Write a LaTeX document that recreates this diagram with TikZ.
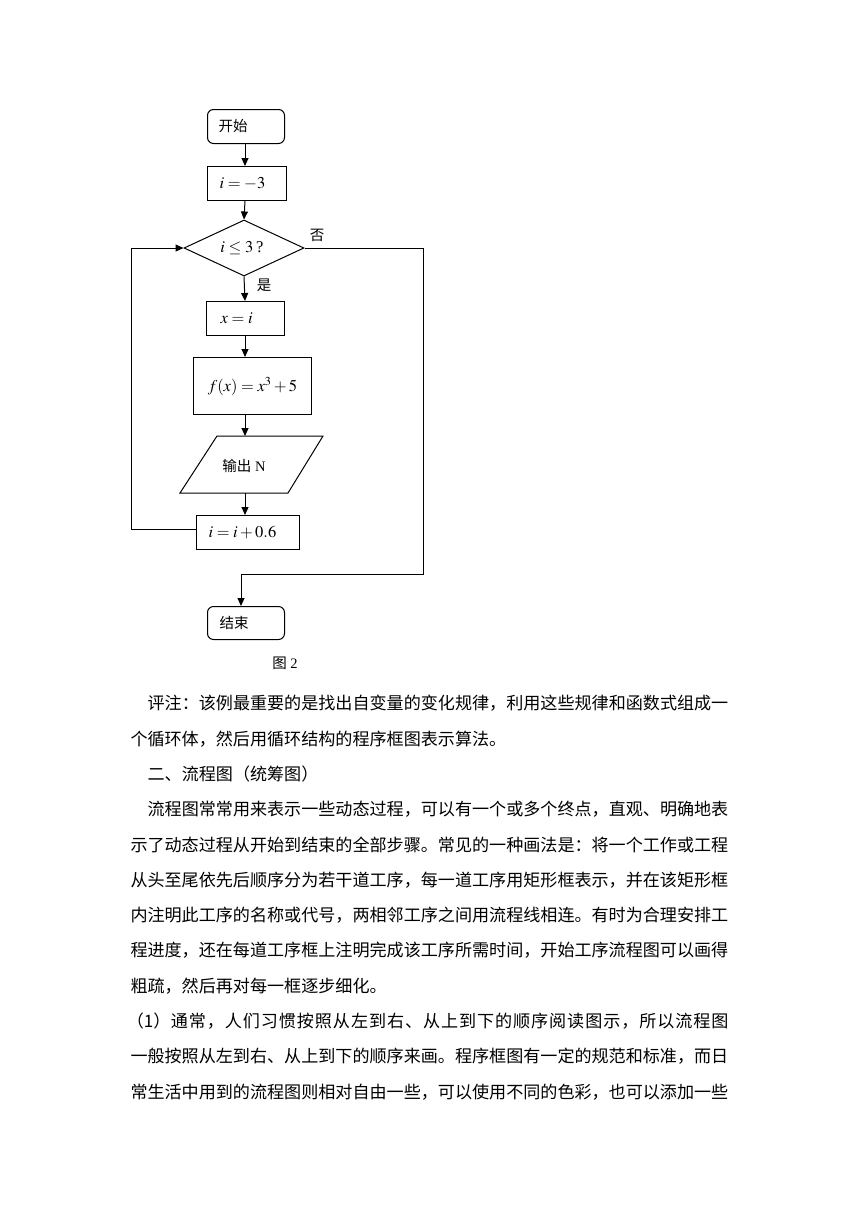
\documentclass[tikz,border=0pt]{standalone}
\usepackage{mathptmx}
\usepackage{fontspec}
\setmainfont{Liberation Serif}
\newfontfamily\cjk{Noto Sans CJK SC}
\newfontfamily\cjkwide{Noto Sans CJK SC}[LetterSpace=5.5]
\usetikzlibrary{arrows.meta,shapes.geometric}
\begin{document}
\begin{tikzpicture}[x=1pt,y=-1pt, line width=1pt,
  fbox/.style={draw, inner ysep=0pt, anchor=north west, font=\fontsize{16.5}{18}\selectfont},
  term/.style={fbox, rounded corners=6pt, font=\cjk\fontsize{14.5}{16}\selectfont},
  flab/.style={inner sep=0pt, font=\cjk\fontsize{14.5}{16}\selectfont},
  arr/.style={-{Triangle[length=8pt,width=7pt]}},
  body/.style={inner sep=0pt, anchor=west, font=\cjk\fontsize{17.08}{20}\selectfont}]
\useasboundingbox[fill=white] (0,0) rectangle (860,1216);

% flowchart
\node[term, text width=55pt, inner xsep=11pt, align=left, minimum height=34pt] (start) at (207,109) {开始};
\node[fbox, text width=55pt, inner xsep=12pt, align=left, minimum height=34pt] (init) at (207,166) {$i=-3$};
\node[draw, diamond, inner sep=0pt, minimum width=120pt, minimum height=56pt, font=\fontsize{16.5}{18}\selectfont] (cond) at (244,248) {};
\node[inner sep=0pt, font=\fontsize{16.5}{18}\selectfont] (condt) at (242,248) {$i\le 3$\,?};
\node[fbox, text width=50pt, inner xsep=14pt, align=left, minimum height=34pt] (xi) at (206,301) {$x=i$};
\node[fbox, minimum width=118pt, minimum height=57pt, inner xsep=0pt] (fx) at (193,357) {$f(x)=x^3+5$};
\draw (217,436) coordinate (pa) -- (323,436) coordinate (pb) -- (288,493) coordinate (pc) -- (180,493) coordinate (pd) -- cycle;
\coordinate (ptop) at (245,436);
\coordinate (pbot) at (245,493);
\node[inner sep=0pt, font=\fontsize{14.5}{16}\selectfont] (out) at (244,466) {{\cjk 输出} N};
\node[fbox, text width=79pt, inner xsep=12pt, align=left, minimum height=34pt] (inc) at (196,515) {$i=i+0.6$};
\node[term, text width=53pt, inner xsep=12pt, align=left, minimum height=33pt] (stop) at (207,606) {结束};

\node[flab] (no) at (317,235) {否};
\node[flab] (yes) at (264,285) {是};
\node[inner sep=0pt, font=\fontsize{14.5}{16}\selectfont] (fig) at (285,663) {{\cjk 图} 2};

\coordinate (ltop) at (131.5,248);
\coordinate (lbot) at (131.5,529);
\coordinate (rtop) at (423,248);
\coordinate (rbot) at (423,574);
\coordinate (jn) at (241,574);

\draw[arr] (start.south -| 245,0) -- (init.north -| 245,0);
\draw[arr] (init.south -| 245,0) -- (cond.north);
\draw[arr] (cond.south) -- (xi.north -| 245,0);
\draw[arr] (xi.south -| 245,0) -- (fx.north -| 245,0);
\draw[arr] (fx.south -| 245,0) -- (ptop);
\draw[arr] (pbot) -- (inc.north -| 245,0);
\draw[arr] (inc.west |- 0,529) -- (lbot) -- (ltop) -- (cond.west);
\draw[arr] (cond.east) -- (rtop) -- (rbot) -- (jn) -- (stop.north -| jn);

% body text
\node[body] (l1) at (147.1,703.5) {评注：该例最重要的是找出自变量的变化规律，利用这些规律和函数式组成一};
\node[body] (l2) at (130,738.8) {个循环体，然后用循环结构的程序框图表示算法。};
\node[body] (l3) at (147.1,774.1) {二、流程图（统筹图）};
\node[body] (l4) at (147.1,809.4) {流程图常常用来表示一些动态过程，可以有一个或多个终点，直观、明确地表};
\node[body] (l5) at (130,844.7) {示了动态过程从开始到结束的全部步骤。常见的一种画法是：将一个工作或工程};
\node[body] (l6) at (130,880) {从头至尾依先后顺序分为若干道工序，每一道工序用矩形框表示，并在该矩形框};
\node[body] (l7) at (130,915.3) {内注明此工序的名称或代号，两相邻工序之间用流程线相连。有时为合理安排工};
\node[body] (l8) at (130,950.6) {程进度，还在每道工序框上注明完成该工序所需时间，开始工序流程图可以画得};
\node[body] (l9) at (130,985.9) {粗疏，然后再对每一框逐步细化。};
\node[body] (l10a) at (126.3,1021.2) {（1）};
\node[body, anchor=east, font=\cjkwide\fontsize{17.08}{20}\selectfont] (l10b) at (729,1021.2) {通常，人们习惯按照从左到右、从上到下的顺序阅读图示，所以流程图};
\node[body] (l11) at (130,1056.5) {一般按照从左到右、从上到下的顺序来画。程序框图有一定的规范和标准，而日};
\node[body] (l12) at (130,1091.8) {常生活中用到的流程图则相对自由一些，可以使用不同的色彩，也可以添加一些};
\end{tikzpicture}
\end{document}
